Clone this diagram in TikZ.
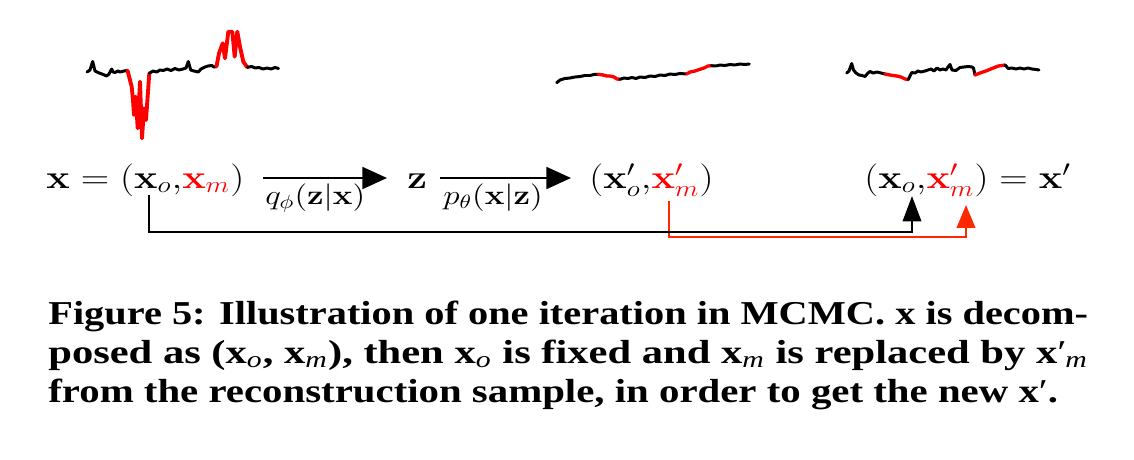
\documentclass[tikz,border=0pt]{standalone}
\usepackage[no-math]{fontspec}
\newfontfamily\capfont{Liberation Serif}
\usetikzlibrary{arrows.meta}
\definecolor{sigred}{RGB}{255,0,0}
\definecolor{conred}{RGB}{255,40,0}
\newsavebox\capbox
\newcommand\capline[2]{\sbox\capbox{#2}\dimen0=\wd\capbox\pgfmathsetmacro\capsx{#1/\the\dimen0}\scalebox{\capsx}[1]{\usebox\capbox}}
\newcommand\smain[1]{\scalebox{1.3}[1.082]{#1}}
\newcommand\slab[1]{\scalebox{1.308}[1.09]{#1}}
\newcommand\csub[1]{\textsubscript{\mdseries\itshape #1}}
\begin{document}
\begin{tikzpicture}[x=0.02cm,y=-0.02cm,
  mathtext/.style={inner sep=0pt, font=\fontsize{17.28}{22}\selectfont},
  labtext/.style={inner sep=0pt, font=\fontsize{14.4}{18}\selectfont},
  captext/.style={inner sep=0pt, anchor=base west, font=\capfont\bfseries\fontsize{19}{22}\selectfont},
  mainarrow/.style={line width=1.1pt, -{Triangle[length=14pt,width=12.5pt]}},
  fbblack/.style={line width=1.4pt, black, -{Triangle[length=14.5pt,width=10.5pt]}},
  fbred/.style={line width=1.2pt, conred, -{Triangle[length=13pt,width=10.5pt]}},
  sigb/.style={line width=1.7pt, line join=round, line cap=round, black},
  sigr/.style={line width=1.9pt, line join=round, line cap=round, sigred}]
\useasboundingbox (0,0) rectangle (1134,460);
% signals
\draw[sigb] plot coordinates {(87,72) (90,70) (92.7,61.5) (95,71) (98,72.5) (102,74) (106.7,76) (109,74) (111.7,69) (113,72) (115,72.5) (118,71) (120,72) (124,71) (127.5,70.5)};
\draw[sigr, line width=2.2pt] plot coordinates {(127.5,70.5) (131.7,86.7) (133,100) (134,115) (135.7,96.7) (137.7,128.3) (140,81.7) (142,138.3) (144,108.3) (146,120) (149.3,73.3)};
\draw[sigb] plot coordinates {(149.3,73.3) (153,71) (156.7,72) (160,70) (163.3,70.5) (167,69) (171,70.5) (175,68.5) (179,70) (183,69) (186,68) (188.3,61.5) (190.7,70) (194,71) (198.3,72) (201,69) (205,67) (208,66) (211.7,65.5) (214,67) (216.5,66.5)};
\draw[sigr, line width=2.2pt] plot coordinates {(216.5,66.5) (219,53.3) (222.7,43.3) (225,58.3) (228.3,31.7) (232.3,31.7) (234.7,56.7) (237.3,31.7) (240,46.7) (243.3,61.7) (247.3,67.3)};
\draw[sigb] plot coordinates {(247.3,67.3) (251.7,66.5) (255,68) (259,67.5) (263,69) (267,68) (271,69) (275,67.5) (278.5,68.5)};
\draw[sigb] plot coordinates {(556.7,82.7) (560,80) (565,78.5) (570,78) (575,77) (580,76.5) (585,75.5) (590,75.5) (594,74.5) (598.3,74.3)};
\draw[sigr] plot coordinates {(598.3,74.3) (603,75) (607,76) (610,76) (614,77) (617,79) (620,79.3)};
\draw[sigb] plot coordinates {(620,79.3) (624,78) (628,78.5) (632,77.5) (636,78.5) (640,77) (645,77.5) (650,76) (655,76.5) (660,75) (665,75.5) (670,74) (675,74.5) (680,73.5) (686.7,74)};
\draw[sigr] plot coordinates {(686.7,74) (690,72) (695,71) (700,69.3) (704,68) (708,66) (711.7,65.7)};
\draw[sigb] plot coordinates {(711.7,65.7) (716,66) (720,65) (725,65.5) (730,64.5) (735,65) (740,64) (745,64.5) (749.3,64)};
\draw[sigb] plot coordinates {(846.7,73) (849,71) (851.7,63.5) (853.5,70) (856,73) (859,75) (862,75.5) (865,76.5) (868,73) (870,71.5) (873,73) (877,72) (881,73) (885,74)};
\draw[sigr] plot coordinates {(885,74) (890,75) (896.7,76) (901,77) (905,79) (908.3,79.5)};
\draw[sigb] plot coordinates {(908.3,79.5) (911.7,72.5) (915,73) (918,71) (921,72) (925,71) (928,70) (931,69) (934,71) (937,68) (940,70) (943,69) (946,70) (948,67) (950,64.5) (952,70) (956,70.5) (960,67.5) (964,67) (968.3,66.5) (972,67) (973.5,68) (975,75)};
\draw[sigr] plot coordinates {(975,75) (980,73) (986.7,70.7) (992,68.5) (998.3,66) (1002,65.5) (1005,65)};
\draw[sigb] plot coordinates {(1005,65) (1008.3,68.5) (1012,68) (1016,69) (1020,68) (1024,69) (1028,68) (1032,69) (1036,69.5) (1039,70)};
% main row
\node[mathtext, anchor=base west] (lhs) at (46,188) {\smain{$\mathbf{x} = (\mathbf{x}_o{,}\textcolor{sigred}{\mathbf{x}_m})$}};
\node[mathtext, anchor=base west] (z) at (407,188) {\smain{$\mathbf{z}$}};
\node[mathtext, anchor=base west] (rec) at (589,188) {\smain{$(\mathbf{x}'_o{,}\textcolor{sigred}{\mathbf{x}'_m})$}};
\node[mathtext, anchor=base west] (new) at (864,188) {\smain{$(\mathbf{x}_o{,}\textcolor{sigred}{\mathbf{x}'_m}) = \mathbf{x}'$}};
\node[labtext, anchor=base west] (ql) at (265,204) {\slab{$q_\phi(\mathbf{z}|\mathbf{x})$}};
\node[labtext, anchor=base west] (pl) at (443,204) {\slab{$p_\theta(\mathbf{x}|\mathbf{z})$}};
\coordinate (a1s) at (263,178);
\coordinate (a1e) at (387,178);
\coordinate (a2s) at (440,178);
\coordinate (a2e) at (571,178);
\draw[mainarrow] (a1s) -- (a1e);
\draw[mainarrow] (a2s) -- (a2e);
% feedback connectors
\coordinate (xmsrc) at (669,201);
\coordinate (xmdst) at (966,205);
\coordinate (xosrc) at (149,195);
\coordinate (xodst) at (912,196);
\draw[fbred] (xmsrc) |- (950,237) -| (xmdst);
\draw[fbblack] (xosrc) |- (900,232) -| (xodst);
% caption
\node[captext] (c1) at (48,324) {\capline{591.8}{Figure 5: Illustration of one iteration in MCMC. x is decom-}};
\node[captext] (c2) at (48,363) {\capline{591.8}{posed as (x\csub{o}, x\csub{m}), then x\csub{o} is fixed and x\csub{m} is replaced by x{\mdseries ′}\kern-0.5pt\csub{m}}};
\node[captext] (c3) at (48,402) {\capline{574.7}{from the reconstruction sample, in order to get the new x{\mdseries ′}.}};
\end{tikzpicture}
\end{document}
